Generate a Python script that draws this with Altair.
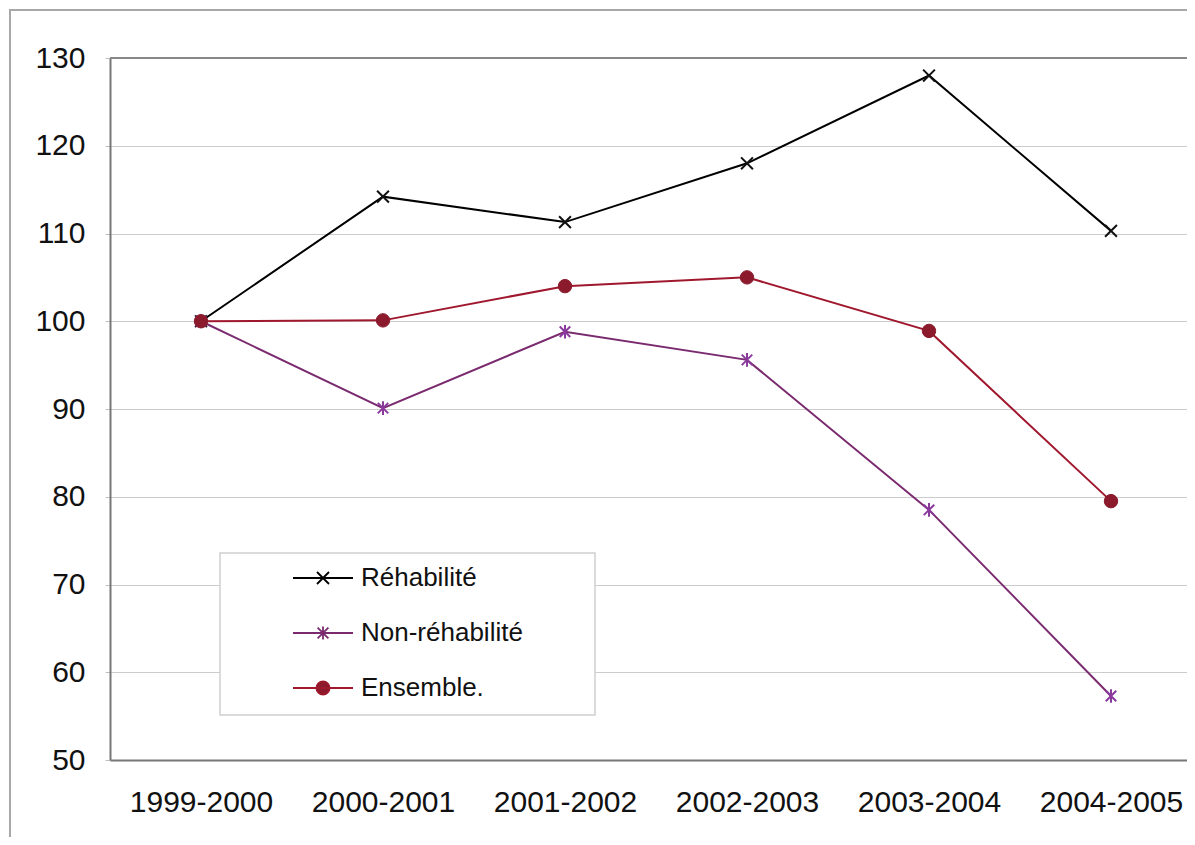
import altair as alt
import pandas as pd

years = ["1999-2000", "2000-2001", "2001-2002", "2002-2003", "2003-2004", "2004-2005"]
rehab = [100, 114.2, 111.3, 118.0, 128.0, 110.3]
non_rehab = [100, 90.1, 98.8, 95.6, 78.5, 57.3]
ensemble = [100, 100.1, 104.0, 105.0, 98.9, 79.5]
series_names = ["Réhabilité", "Non-réhabilité", "Ensemble."]

rows = []
for name, vals in zip(series_names, [rehab, non_rehab, ensemble]):
    for y, v in zip(years, vals):
        rows.append({"annee": y, "indice": v, "serie": name})
df = pd.DataFrame(rows)

line_colors = ["#000000", "#7A2A6E", "#A0182E"]
marker_colors = ["#111111", "#8A3A9C", "#8A1A2C"]
marker_shapes = [
    "M-1,-1L1,1M-1,1L1,-1",
    "M-1,-1L1,1M-1,1L1,-1M0,-1.3L0,1.3",
    "circle",
]
marker_sizes = [140, 110, 180]
legend_shapes = [
    "M-1,0H1M-0.2,-0.2L0.2,0.2M-0.2,0.2L0.2,-0.2",
    "M-1,0H1M-0.18,-0.18L0.18,0.18M-0.18,0.18L0.18,-0.18M0,-0.22L0,0.22",
    "M-1,0H1M0.22,0A0.22,0.22 0 1,1 -0.22,0A0.22,0.22 0 1,1 0.22,0Z",
]

W, H = 1077, 702
font = "Liberation Sans"

x_enc = alt.X(
    "annee:N", sort=years, title=None,
    scale=alt.Scale(type="point", domain=years, padding=0.5, range=[0, 1092]),
    axis=alt.Axis(labelAngle=0, labelFontSize=30, labelColor="#111111", labelFont=font,
                  labelPadding=27, tickSize=6, tickColor="#909090",
                  domainColor="#777777", domainWidth=2, grid=False, ticks=False),
)
y_enc = alt.Y(
    "indice:Q", title=None,
    scale=alt.Scale(domain=[50, 130], nice=False, zero=False),
    axis=alt.Axis(values=list(range(50, 131, 10)), labelFontSize=30, labelColor="#111111",
                  labelFont=font, labelPadding=20, tickSize=5, tickColor="#c0c0c0",
                  domainColor="#777777", domainWidth=2, gridColor="#cccccc", gridWidth=1),
)

base = alt.Chart(df)

single = pd.DataFrame({"k": [0]})
# outer chart border
outer = alt.Chart(single).mark_rect(
    fill="transparent", fillOpacity=0, stroke="#a8a8a8", strokeWidth=2
).encode(x=alt.value(-100), x2=alt.value(1400), y=alt.value(-48), y2=alt.value(1000))
# top edge of plot area
top_edge = alt.Chart(single).mark_rule(color="#888888", strokeWidth=2).encode(
    x=alt.value(0), x2=alt.value(1100), y=alt.value(0)
)
# legend frame
frame = alt.Chart(single).mark_rect(
    fill="white", stroke="#d0d0d0", strokeWidth=1.5
).encode(x=alt.value(110), x2=alt.value(485), y=alt.value(495), y2=alt.value(657))

layers = [outer, top_edge, frame]
for i, name in enumerate(series_names):
    sub = base.transform_filter(alt.datum.serie == name)
    layers.append(
        sub.mark_line(strokeWidth=2, color=line_colors[i]).encode(x=x_enc, y=y_enc)
    )
for i, name in enumerate(series_names):
    sub = base.transform_filter(alt.datum.serie == name)
    filled = marker_shapes[i] == "circle"
    layers.append(
        sub.mark_point(
            shape=marker_shapes[i], size=marker_sizes[i], filled=filled, opacity=1,
            color=marker_colors[i], strokeWidth=2 if not filled else 1,
            stroke=marker_colors[i],
        ).encode(x=x_enc, y=y_enc)
    )

leg = alt.Legend(title=None, orient="none", legendX=182, legendY=507,
                 symbolSize=3600, clipHeight=26, rowPadding=29,
                 labelOffset=7, labelFontSize=26, labelFont=font, labelLimit=400,
                 labelColor="#111111", symbolStrokeWidth=1.8, padding=0)

legend_layer = base.transform_filter("false").mark_point(
    filled=True, opacity=1, strokeWidth=1.8
).encode(
    x=x_enc, y=y_enc,
    fill=alt.Fill("serie:N", scale=alt.Scale(domain=series_names, range=marker_colors), legend=leg),
    stroke=alt.Stroke("serie:N", scale=alt.Scale(domain=series_names, range=line_colors), legend=leg),
    shape=alt.Shape("serie:N", scale=alt.Scale(domain=series_names, range=legend_shapes), legend=leg),
)
layers.append(legend_layer)

chart = alt.layer(*layers).properties(
    width=W, height=H,
    autosize=alt.AutoSizeParams(type="none"),
    padding={"left": 102, "top": 50, "right": 0, "bottom": 77},
).configure_view(
    strokeWidth=0
).configure(background="white")

chart.save("out.html", embed_options={"renderer": "svg", "actions": False})
